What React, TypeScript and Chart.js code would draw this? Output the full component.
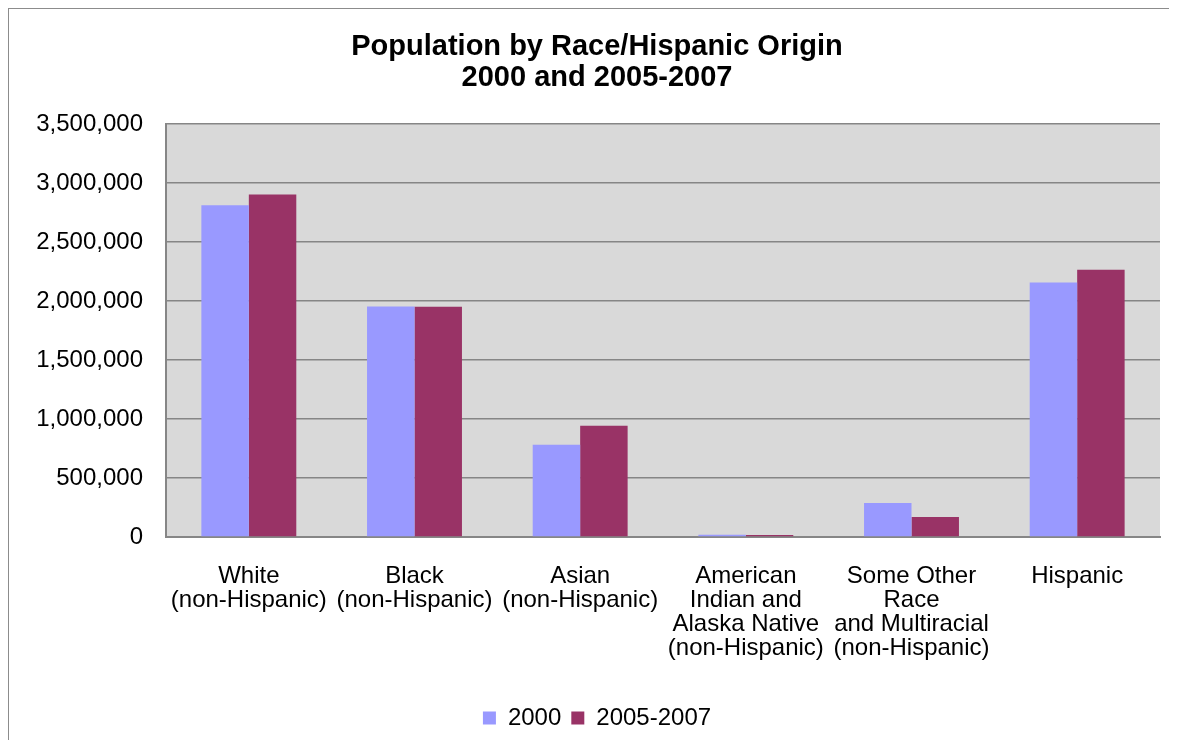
import React, { useEffect, useRef } from "react";
import { Chart, registerables } from "chart.js";

Chart.register(...registerables);

const categories: string[][] = [
  ["White", "(non-Hispanic)"],
  ["Black", "(non-Hispanic)"],
  ["Asian", "(non-Hispanic)"],
  ["American", "Indian and", "Alaska Native", "(non-Hispanic)"],
  ["Some Other", "Race", "and Multiracial", "(non-Hispanic)"],
  ["Hispanic"],
];
const series2000: number[] = [2812000, 1954000, 781000, 19500, 289000, 2158000];
const series2005: number[] = [2903000, 1952000, 943000, 18000, 170000, 2266000];
const seriesNames: string[] = ["2000", "2005-2007"];
const titleLines: string[] = ["Population by Race/Hispanic Origin", "2000 and 2005-2007"];
const yTickMax = 3500000;
const yTickStep = 500000;

const FONT = "'Liberation Sans', Arial, Helvetica, sans-serif";

const plotBg = {
  id: "plotBg",
  beforeDraw(chart: any) {
    const { ctx, chartArea } = chart;
    if (!chartArea) return;
    ctx.save();
    ctx.fillStyle = "#D9D9D9";
    ctx.fillRect(chartArea.left, chartArea.top, chartArea.right - chartArea.left, chartArea.bottom - chartArea.top);
    ctx.restore();
  },
};

export default function App() {
  const ref = useRef<HTMLCanvasElement | null>(null);
  useEffect(() => {
    if (!ref.current) return;
    const chart = new Chart(ref.current, {
      type: "bar",
      data: {
        labels: categories,
        datasets: [
          { label: seriesNames[0], data: series2000, backgroundColor: "#9999FF", categoryPercentage: 0.573, barPercentage: 1 },
          { label: seriesNames[1], data: series2005, backgroundColor: "#993366", categoryPercentage: 0.573, barPercentage: 1 },
        ],
      },
      options: {
        animation: false,
        responsive: true,
        maintainAspectRatio: false,
        layout: { padding: { left: 25, right: 9, top: 0, bottom: 0 } },
        plugins: {
          title: {
            display: true,
            text: titleLines,
            color: "#000",
            font: { family: FONT, size: 29, weight: "bold", lineHeight: 1.07 },
            padding: { top: 22, bottom: 31 },
          },
          legend: {
            position: "bottom",
            labels: {
              color: "#000",
              font: { family: FONT, size: 24 },
              boxWidth: 13,
              boxHeight: 13,
              padding: 10,
            },
          },
          tooltip: { enabled: false },
        },
        scales: {
          x: {
            grid: { display: false, drawTicks: false },
            border: { display: true, color: "#868686", width: 2 },
            ticks: {
              color: "#000",
              font: { family: FONT, size: 24, lineHeight: 1 },
              padding: 27,
              maxRotation: 0,
              autoSkip: false,
            },
            afterFit(scale: any) {
              scale.height = 159;
            },
          },
          y: {
            min: 0,
            max: yTickMax,
            grid: { color: "#868686", lineWidth: 1.5, drawTicks: false },
            border: { display: true, color: "#868686", width: 2 },
            ticks: {
              stepSize: yTickStep,
              color: "#000",
              font: { family: FONT, size: 24 },
              padding: 23,
              callback: (v: any) => Number(v).toLocaleString("en-US"),
            },
            afterFit(scale: any) {
              scale.width = 132;
            },
          },
        },
      },
      plugins: [plotBg],
    });
    return () => chart.destroy();
  }, []);
  return (
    <div
      style={{
        width: 1160,
        height: 731,
        borderLeft: "1px solid #8c8c8c",
        borderTop: "1px solid #8c8c8c",
        position: "relative",
        background: "#fff",
      }}
    >
      <canvas ref={ref} />
    </div>
  );
}
